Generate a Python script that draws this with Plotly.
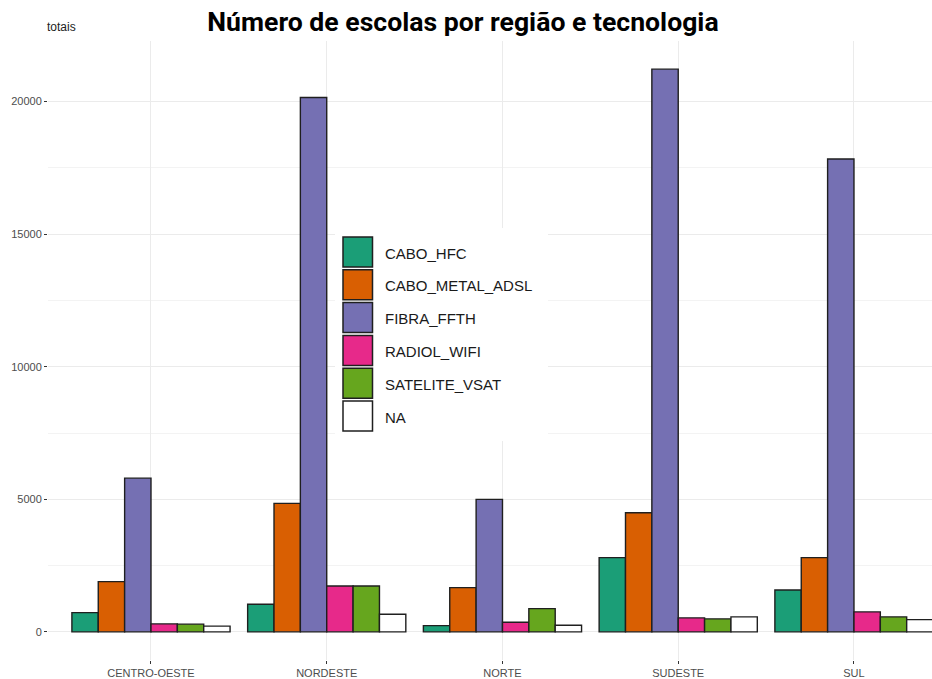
import plotly.graph_objects as go

regions = ["CENTRO-OESTE", "NORDESTE", "NORTE", "SUDESTE", "SUL"]
technologies = ["CABO_HFC", "CABO_METAL_ADSL", "FIBRA_FFTH", "RADIOL_WIFI", "SATELITE_VSAT", "NA"]
CABO_HFC = [727, 1043, 237, 2799, 1581]
CABO_METAL_ADSL = [1894, 4845, 1668, 4493, 2799]
FIBRA_FFTH = [5798, 20154, 4995, 21223, 17834]
RADIOL_WIFI = [301, 1732, 365, 527, 753]
SATELITE_VSAT = [290, 1732, 878, 490, 565]
NA = [215, 666, 252, 565, 463]
series = [CABO_HFC, CABO_METAL_ADSL, FIBRA_FFTH, RADIOL_WIFI, SATELITE_VSAT, NA]
colors = ["#1B9E77", "#D95F02", "#7570B3", "#E7298A", "#66A61E", "#FFFFFF"]
y_ticks = [0, 5000, 10000, 15000, 20000]

W, H = 932, 679
ML, MR, MT, MB = 48, 0, 41, 19
PW, PH = W - ML - MR, H - MT - MB

fig = go.Figure()
for name, vals, col in zip(technologies, series, colors):
    fig.add_trace(go.Bar(
        x=regions, y=vals, name=name, showlegend=False,
        marker=dict(color=col, line=dict(color="#1f1f1f", width=1.4)),
    ))

ymax = max(max(s) for s in series)
fig.update_layout(
    width=W, height=H,
    margin=dict(l=ML, r=MR, t=MT, b=MB, pad=0),
    paper_bgcolor="white", plot_bgcolor="white",
    barmode="group", bargap=0.1, bargroupgap=0,
    font=dict(family="Liberation Sans, Arial, sans-serif", color="#4d4d4d", size=11),
    title=dict(text="Número de escolas por região e tecnologia",
               font=dict(family="Roboto", size=26.6, color="#000000", weight="bold"),
               x=463 / W, xref="container", xanchor="center",
               y=1 - 22 / H, yref="container", yanchor="middle"),
    xaxis=dict(range=[-0.586, 4.444], showgrid=True, gridcolor="#ebebeb", gridwidth=1,
               ticks="outside", ticklen=3, tickcolor="#333333", showline=False,
               tickfont=dict(size=11, color="#4d4d4d"), fixedrange=True),
    yaxis=dict(range=[-0.05 * ymax, 1.05 * ymax], tickvals=y_ticks,
               ticktext=[str(v) for v in y_ticks],
               showgrid=True, gridcolor="#ebebeb", gridwidth=1, zeroline=False,
               ticks="outside", ticklen=3, tickcolor="#333333", showline=False,
               tickfont=dict(size=11, color="#4d4d4d"),
               minor=dict(tickvals=[2500, 7500, 12500, 17500], showgrid=True,
                          gridcolor="#f3f3f3", gridwidth=0.6, ticks=""),
               fixedrange=True),
)

fig.add_annotation(text="totais", xref="paper", yref="paper",
                   x=(45 - ML) / PW, y=(H - MB - 27) / PH, xanchor="left", yanchor="middle",
                   showarrow=False, font=dict(size=12, color="#222222"))

def px_x(px):
    return (px - ML) / PW

def px_y(py):
    return (H - MB - py) / PH

# legend panel drawn manually (large ggplot-style keys)
shapes = [dict(type="rect", xref="paper", yref="paper",
               x0=px_x(335), x1=px_x(548), y0=px_y(441), y1=px_y(228),
               fillcolor="white", line=dict(width=0), layer="above")]
for i, (name, col) in enumerate(zip(technologies, colors)):
    top = 237 + 32.8 * i
    shapes.append(dict(type="rect", xref="paper", yref="paper",
                       x0=px_x(343), x1=px_x(372.5), y0=px_y(top + 30), y1=px_y(top),
                       fillcolor=col, line=dict(color="#1f1f1f", width=1.5), layer="above"))
    fig.add_annotation(text=name, xref="paper", yref="paper",
                       x=px_x(383), y=px_y(top + 16), xanchor="left", yanchor="middle",
                       showarrow=False, font=dict(size=15, color="#1a1a1a"))
fig.update_layout(shapes=shapes)

fig.write_html("out.html", config={"displayModeBar": False},
               post_script="document.body.style.margin='0';document.body.style.overflow='hidden';")
